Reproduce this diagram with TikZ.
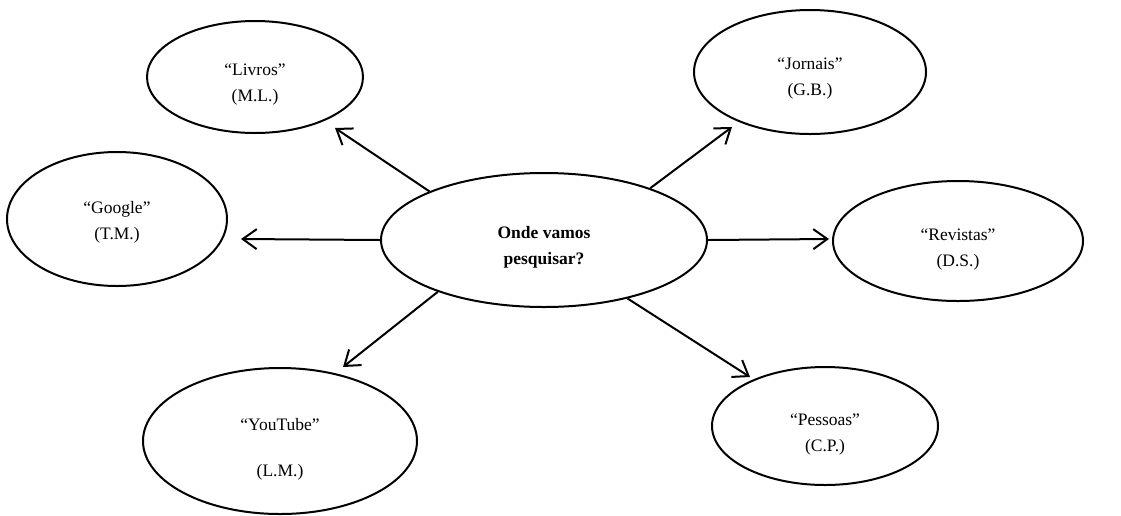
\documentclass[tikz,border=0pt]{standalone}
\usepackage{fontspec}
\setmainfont{Liberation Serif}
\usetikzlibrary{shapes.geometric,arrows.meta}
\begin{document}
\begin{tikzpicture}[x=1pt,y=-1pt,
  bubble/.style={draw,ellipse,line width=2pt,inner sep=0pt},
  txt/.style={align=center,inner sep=0pt,font=\fontsize{17.5}{26}\selectfont},
  conn/.style={line width=2pt,-{Straight Barb[length=14pt,width=20pt,line width=2pt]}}]
\useasboundingbox (0,0) rectangle (1121,515);
\node[bubble,minimum width=326pt,minimum height=134pt] (c) at (544,240) {};
\node[bubble,minimum width=216pt,minimum height=112pt] (livros) at (255,77) {};
\node[bubble,minimum width=220pt,minimum height=134pt] (google) at (117,219) {};
\node[bubble,minimum width=232pt,minimum height=124pt] (jornais) at (810,72) {};
\node[bubble,minimum width=250pt,minimum height=120pt] (revistas) at (958,241) {};
\node[bubble,minimum width=274pt,minimum height=146pt] (youtube) at (280,441) {};
\node[bubble,minimum width=226pt,minimum height=118pt] (pessoas) at (825,426) {};
\node[txt] (ct) at ([yshift=-7pt]c.center) {\textbf{Onde vamos}\\\textbf{pesquisar?}};
\node[txt] (lt) at ([yshift=-8pt]livros.center) {“Livros”\\(M.L.)};
\node[txt] (gt) at ([yshift=-3pt]google.center) {“Google”\\(T.M.)};
\node[txt] (jt) at ([yshift=-7pt]jornais.center) {“Jornais”\\(G.B.)};
\node[txt] (rt) at ([yshift=-9pt]revistas.center) {“Revistas”\\(D.S.)};
\node[txt] (yt) at ([yshift=-8pt]youtube.center) {“YouTube”\\[20pt](L.M.)};
\node[txt] (pt) at ([yshift=-9pt]pessoas.center) {“Pessoas”\\(C.P.)};
\coordinate (tL) at (335,128);
\coordinate (tG) at (241,239);
\coordinate (tJ) at (732,127);
\coordinate (tR) at (829,239);
\coordinate (tY) at (343,367);
\coordinate (tP) at (750,377);
\draw[conn] (c.157.7) -- (tL);
\draw[conn] (c.180) -- (tG);
\draw[conn] (c.26.4) -- (tJ);
\draw[conn] (c.0) -- (tR);
\draw[conn] (c.206) -- (tY);
\draw[conn] (c.325.6) -- (tP);
\end{tikzpicture}
\end{document}
